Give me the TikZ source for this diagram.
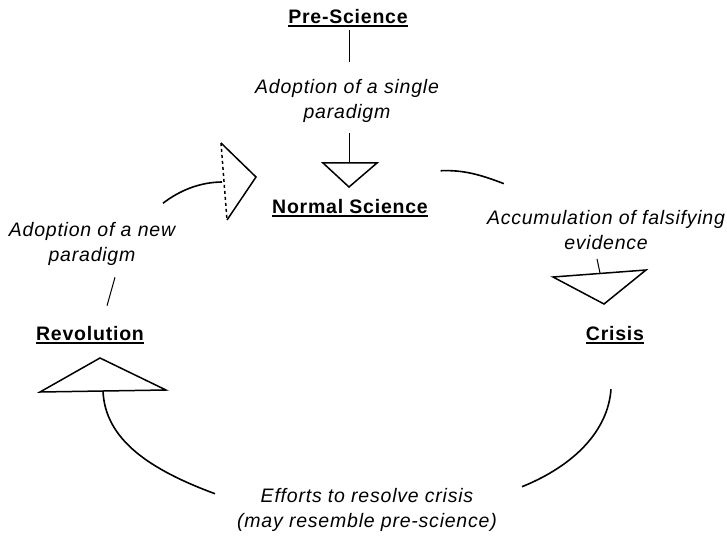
\documentclass[tikz,border=0pt]{standalone}
\usepackage{fontspec}
\setmainfont{Liberation Sans}[LetterSpace=4]
\newcommand\ulword[1]{\setbox0\hbox{#1}\rlap{\usebox0}\rule[-4pt]{\wd0}{1.8pt}}
\begin{document}
\begin{tikzpicture}[x=1pt,y=-1pt,
  title/.style={inner sep=0pt,font=\fontsize{19.5}{25}\selectfont\bfseries},
  note/.style={inner sep=0pt,align=center,font=\fontsize{19.5}{25}\selectfont\itshape},
  link/.style={line width=1pt},
  sweep/.style={line width=1.6pt},
  head/.style={line width=1.5pt,line join=miter}]
\useasboundingbox (0,0) rectangle (727,548);

% stages and transitions
\node[title] (ps)      at (348,18)  {\ulword{Pre-Science}};
\node[note]  (adopt1)  at (347,101) {Adoption of a single\\paradigm};
\node[title] (ns)      at (350,208) {\ulword{Normal Science}};
\node[note]  (accum)   at (606,230) {Accumulation of falsifying\\evidence};
\node[title] (crisis)  at (615,335) {\ulword{Crisis}};
\node[note]  (efforts) at (367,510) {Efforts to resolve crisis\\(may resemble pre-science)};
\node[title] (rev)     at (90,335)  {\ulword{Revolution}};
\node[note]  (adopt2)  at (92,244)  {Adoption of a new\\paradigm};

% arrowhead anchor points
\coordinate (h1) at (349,163);
\coordinate (h2) at (600,273);
\coordinate (h3) at (103,391);
\coordinate (h4) at (222,182);

% Pre-Science -> Normal Science
\draw[link] ([shift={(0,3)}]h1 |- ps.south) -- ([shift={(0,-17)}]h1 |- adopt1.north);
\draw[link] ([shift={(0,10)}]h1 |- adopt1.south) -- (h1);
\draw[head] (323,163) -- (377,163) -- (349,187) -- cycle;

% Normal Science -> Crisis
\draw[sweep] ([shift={(12.5,-28)}]ns.north east)
  .. controls ([shift={(35.5,-29)}]ns.north east) and ([shift={(52.5,-24)}]ns.north east)
  .. ([shift={(17,-26.5)}]accum.north west);
\draw[link] ([shift={(-9,9)}]accum.south) -- (h2);
\draw[head] (553,277) -- (646,270) -- (604,304) -- cycle;

% Crisis -> Revolution
\draw[sweep] ([shift={(-4,45)}]crisis.south)
  .. controls ([shift={(-7,86)}]crisis.south) and ([shift={(-40,121)}]crisis.south)
  .. ([shift={(25,-1.5)}]efforts.north east);
\draw[sweep] ([shift={(-22,5.5)}]efforts.north west)
  .. controls ([shift={(-87,-18.5)}]efforts.north west) and ([shift={(-132,-48.5)}]efforts.north west)
  .. (h3);
\draw[head] (40,392) -- (166,390) -- (100,358) -- cycle;

% Revolution -> Normal Science
\draw[link] ([shift={(17,-20)}]rev.north) -- ([shift={(23,11.5)}]adopt2.south);
\draw[sweep] ([shift={(71,-19)}]adopt2.north)
  .. controls ([shift={(88,-32)}]adopt2.north) and ([shift={(108,-40)}]adopt2.north)
  .. (h4);
\draw[head,dashed] (221,143) -- (227,220);
\draw[head] (221,143) -- (256,177) -- (227,220);
\end{tikzpicture}
\end{document}
